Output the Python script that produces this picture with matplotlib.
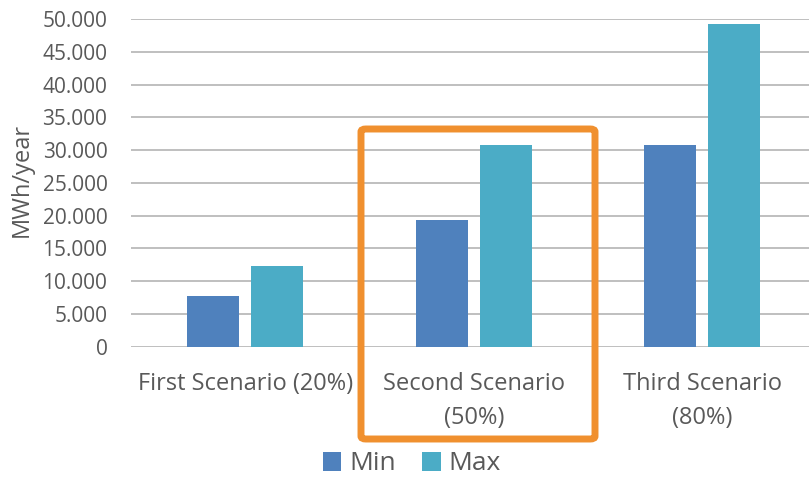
import matplotlib.pyplot as plt
import numpy as np
from matplotlib.patches import FancyBboxPatch
from matplotlib.ticker import FuncFormatter

categories = ["First Scenario (20%)", "Second Scenario\n(50%)", "Third Scenario\n(80%)"]
series_names = ["Min", "Max"]
min_values = [7700, 19300, 30800]
max_values = [12300, 30800, 49200]
colors = ["#4F81BD", "#4BACC6"]
text_color = "#595959"

plt.rcParams["font.family"] = ["Open Sans", "DejaVu Sans"]

fig = plt.figure(figsize=(8.09, 4.78), dpi=100)
ax = fig.add_axes([131 / 809, 1 - 346.7 / 478, 678 / 809, 327.7 / 478])

x = np.arange(len(categories))
width = 0.228
offset = 0.14
ax.bar(x - offset, min_values, width, color=colors[0], label=series_names[0], zorder=3)
ax.bar(x + offset, max_values, width, color=colors[1], label=series_names[1], zorder=3)

ax.set_xlim(-0.5, -0.5 + 678 / 228.5)
ax.set_ylim(0, 50000)
ax.set_yticks(np.arange(0, 50001, 5000))
ax.yaxis.set_major_formatter(FuncFormatter(lambda v, _: f"{v:,.0f}".replace(",", ".")))
ax.grid(axis="y", color="#BFBFBF", linewidth=1.4, zorder=0)
for s in ax.spines.values():
    s.set_visible(False)
ax.tick_params(axis="y", length=0, pad=17, labelsize=15, labelcolor=text_color)
ax.set_xticks(x)
ax.set_xticklabels(categories, fontsize=17, color=text_color, linespacing=1.55)
ax.tick_params(axis="x", length=0, pad=18)
ax.set_ylabel("MWh/year", fontsize=17, color=text_color)
ax.yaxis.set_label_coords((34 - 131) / 678, 0.51)

ax.legend(loc="center", bbox_to_anchor=(412 / 809, 1 - 464 / 478), bbox_transform=fig.transFigure,
          ncol=2, frameon=False, fontsize=19, labelcolor=text_color, handlelength=0.7,
          handleheight=0.7, handletextpad=0.3, columnspacing=1.0)

box = FancyBboxPatch((361 / 809, 1 - 439 / 478), 234 / 809, 310 / 478,
                     boxstyle="round,pad=0,rounding_size=0.006", transform=fig.transFigure,
                     fill=False, edgecolor="#F0902F", linewidth=5, zorder=10)
fig.patches.append(box)

fig.savefig("out.png", dpi=100)
